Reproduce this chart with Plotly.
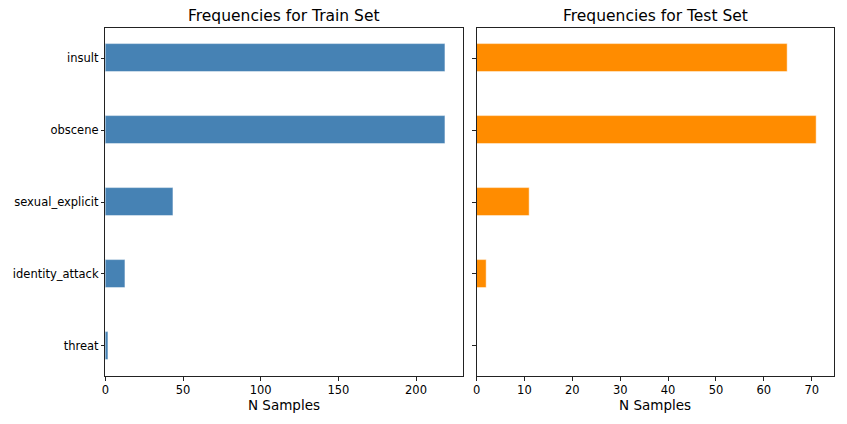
import plotly.graph_objects as go

categories = ["insult", "obscene", "sexual_explicit", "identity_attack", "threat"]
train_counts = [219, 219, 44, 13, 2]
test_counts = [65, 71, 11, 2, 0]
train_ticks = [0, 50, 100, 150, 200]
test_ticks = [0, 10, 20, 30, 40, 50, 60, 70]

OFF = 8
W, H = 847 - 2 * OFF, 424 - 2 * OFF
font = "DejaVu Sans"


def px(v):
    return (v - OFF - 2.5) / W


def py(v):
    return 1 - (v - OFF) / H


fig = go.Figure()
fig.add_trace(go.Bar(
    x=train_counts, y=categories, orientation="h", width=0.4,
    marker=dict(color="#4682B4", line=dict(color="rgba(255,255,255,0.6)", width=0.8)),
    xaxis="x", yaxis="y", showlegend=False,
))
fig.add_trace(go.Bar(
    x=test_counts, y=categories, orientation="h", width=0.4,
    marker=dict(color="#FF8C00", line=dict(color="rgba(255,255,255,0.6)", width=0.8)),
    xaxis="x2", yaxis="y2", showlegend=False,
))

ydom = [py(376), py(28)]
axis_common = dict(
    showline=True, mirror=True, linecolor="#222", linewidth=1,
    ticks="outside", ticklen=3.5, tickcolor="#222", tickwidth=0.8,
    showgrid=False, zeroline=False,
    tickfont=dict(family=font, size=11.5, color="black"),
)
fig.update_layout(
    width=W, height=H,
    margin=dict(l=0, r=0, t=0, b=0),
    paper_bgcolor="white", plot_bgcolor="white",
    font=dict(family=font, color="black"),
    bargap=0,
    xaxis=dict(domain=[px(104.3), px(463.3)], range=[0, 230], tickvals=train_ticks,
               anchor="y", title=dict(text="N Samples", font=dict(size=13.5), standoff=3),
               **axis_common),
    yaxis=dict(domain=ydom, anchor="x", type="category", categoryorder="array",
               categoryarray=categories, range=[4.417, -0.417], **axis_common),
    xaxis2=dict(domain=[px(477.3), px(836)], range=[0, 74.55], tickvals=test_ticks,
                anchor="y2", title=dict(text="N Samples", font=dict(size=13.5), standoff=3),
                **axis_common),
    yaxis2=dict(domain=ydom, anchor="x2", type="category", categoryorder="array",
                categoryarray=categories, range=[4.417, -0.417], showticklabels=False,
                **axis_common),
    annotations=[
        dict(text="Frequencies for Train Set", x=px((104.3 + 463.3) / 2), y=py(16),
             xref="paper", yref="paper", showarrow=False, xanchor="center", yanchor="middle",
             font=dict(family=font, size=15.5, color="black")),
        dict(text="Frequencies for Test Set", x=px((477.3 + 836) / 2), y=py(16),
             xref="paper", yref="paper", showarrow=False, xanchor="center", yanchor="middle",
             font=dict(family=font, size=15.5, color="black")),
    ],
)

fig.write_html("out.html")
